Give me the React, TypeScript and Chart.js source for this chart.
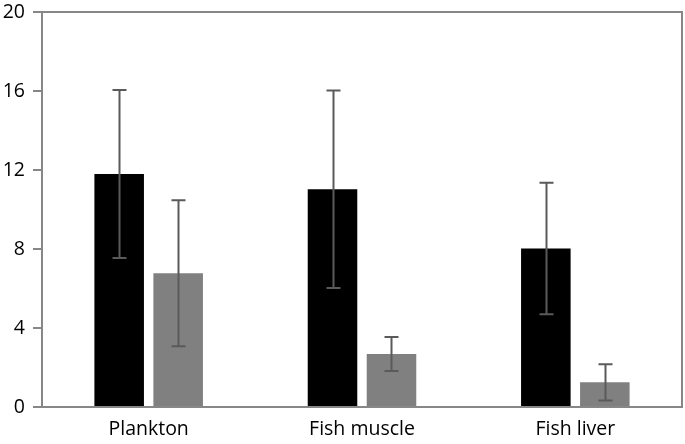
import React, { useEffect, useRef } from "react";
import { Chart, registerables } from "chart.js";

Chart.register(...registerables);

const categories = ["Plankton", "Fish muscle", "Fish liver"];
const seriesA = [11.8, 11.03, 8.03];
const errorsA = [4.25, 5.0, 3.33];
const seriesB = [6.77, 2.68, 1.25];
const errorsB = [3.7, 0.86, 0.92];
const yTicks = [0, 4, 8, 12, 16, 20];

const errorBarPlugin = {
  id: "errorBars",
  afterDatasetsDraw(chart: any) {
    const ctx = chart.ctx;
    const y = chart.scales.y;
    const errs = [errorsA, errorsB];
    ctx.save();
    ctx.strokeStyle = "#5a5a5a";
    ctx.lineWidth = 2;
    chart.data.datasets.forEach((ds: any, di: number) => {
      const meta = chart.getDatasetMeta(di);
      meta.data.forEach((bar: any, i: number) => {
        const v = ds.data[i];
        const e = errs[di][i];
        const x = Math.round(bar.x) + 0.5;
        const yt = y.getPixelForValue(v + e);
        const yb = y.getPixelForValue(v - e);
        ctx.beginPath();
        ctx.moveTo(x, yt);
        ctx.lineTo(x, yb);
        ctx.moveTo(x - 7, yt);
        ctx.lineTo(x + 7, yt);
        ctx.moveTo(x - 7, yb);
        ctx.lineTo(x + 7, yb);
        ctx.stroke();
      });
    });
    ctx.restore();
  },
};

const framePlugin = {
  id: "frame",
  afterDraw(chart: any) {
    const { left, top, right, bottom } = chart.chartArea;
    const ctx = chart.ctx;
    ctx.save();
    ctx.strokeStyle = "#878787";
    ctx.lineWidth = 2;
    ctx.strokeRect(left, top, right - left, bottom - top);
    ctx.restore();
  },
};

export default function App() {
  const ref = useRef<HTMLCanvasElement>(null);
  useEffect(() => {
    document.body.style.margin = "0";
    const chart = new Chart(ref.current!, {
      type: "bar",
      data: {
        labels: categories,
        datasets: [
          { data: seriesA, backgroundColor: "#000000", categoryPercentage: 0.553, barPercentage: 0.84 },
          { data: seriesB, backgroundColor: "#808080", categoryPercentage: 0.553, barPercentage: 0.84 },
        ],
      },
      options: {
        responsive: false,
        animation: false,
        layout: { padding: { top: 0, right: 3, left: 0, bottom: 0 } },
        plugins: { legend: { display: false }, tooltip: { enabled: false } },
        scales: {
          x: {
            grid: { display: false },
            border: { display: false },
            ticks: { color: "#000", font: { family: "Open Sans", size: 19.5 }, padding: 3 },
            afterFit(scale: any) {
              scale.height = 37;
              scale.paddingLeft = 0;
              scale.paddingRight = 0;
            },
          },
          y: {
            min: 0,
            max: 20,
            afterBuildTicks(scale: any) {
              scale.ticks = yTicks.map((v) => ({ value: v }));
            },
            grid: { drawOnChartArea: false, drawTicks: true, tickLength: 9, color: "#878787", lineWidth: 2 },
            border: { display: false },
            ticks: { color: "#000", font: { family: "Open Sans", size: 19.5 }, padding: 8 },
            afterFit(scale: any) {
              scale.width = 42;
              scale.paddingTop = 12;
              scale.paddingBottom = 0;
            },
          },
        },
      },
      plugins: [errorBarPlugin, framePlugin],
    });
    return () => chart.destroy();
  }, []);
  return (
    <div style={{ position: "absolute", left: 0, top: 0, width: 685, height: 444 }}>
      <canvas ref={ref} width={685} height={444} />
    </div>
  );
}
